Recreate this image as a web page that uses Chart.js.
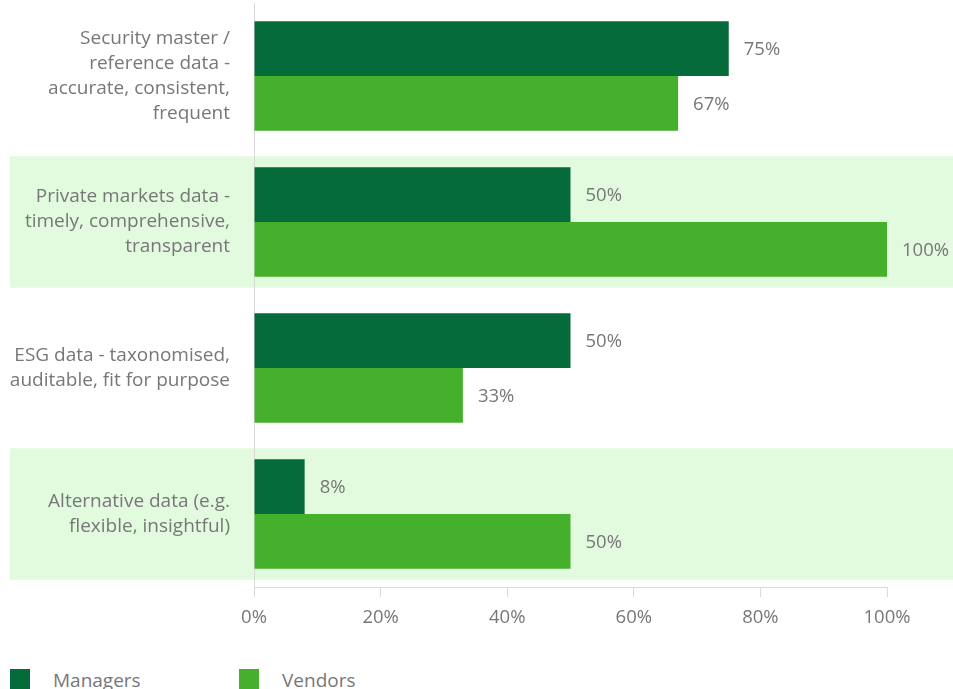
<!DOCTYPE html>
<html lang="en">
<head>
<meta charset="UTF-8">
<title>Data priorities</title>
<script src="https://cdn.jsdelivr.net/npm/chart.js@4"></script>
<style>
    body { margin: 0; background: #fff; font-family: "Open Sans", sans-serif; }
    .wrap { position: relative; width: 953px; height: 689px; overflow: hidden; }
    .chart-box { position: absolute; left: 0; top: 0; width: 953px; height: 640px; }
    .legend { position: absolute; top: 669px; left: 10px; display: flex; font-size: 19px; color: #777; }
    .legend .item { display: flex; align-items: flex-start; width: 229px; }
    .legend .sw { width: 20px; height: 20px; margin-right: 23px; }
    .legend span { line-height: 20px; margin-top: 1px; }
</style>
</head>
<body>
<div class="wrap">
    <div class="chart-box"><canvas id="grafico"></canvas></div>
    <div class="legend" id="leyenda"></div>
</div>
<script>
const categorias = [
    ["Security master /", "reference data -", "accurate, consistent,", "frequent"],
    ["Private markets data -", "timely, comprehensive,", "transparent"],
    ["ESG data - taxonomised,", "auditable, fit for purpose"],
    ["Alternative data (e.g.", "flexible, insightful)"]
];
const managers = [75, 50, 50, 8];
const vendors = [67, 100, 33, 50];
const series = ["Managers", "Vendors"];
const colores = ["#066b3a", "#44b02b"];
const ticksX = [0, 20, 40, 60, 80, 100];

const colorTexto = "#777777";
const colorEje = "#d9d9d9";
const colorBanda = "#e2fbdf";

// franjas verdes claras detrás de las categorías pares
const bandas = {
    id: "bandas",
    beforeDraw(chart) {
        const y = chart.scales.y;
        const ctx = chart.ctx;
        const paso = y.getPixelForValue(1) - y.getPixelForValue(0);
        ctx.save();
        ctx.fillStyle = colorBanda;
        categorias.forEach((c, i) => {
            if (i % 2 === 1) {
                const cy = y.getPixelForValue(i);
                ctx.fillRect(10, cy - paso * 0.45, chart.width - 10, paso * 0.9);
            }
        });
        ctx.restore();
    }
};

// etiquetas de valor a la derecha de cada barra
const etiquetas = {
    id: "etiquetas",
    afterDatasetsDraw(chart) {
        const ctx = chart.ctx;
        ctx.save();
        ctx.font = "18.5px 'Open Sans'";
        ctx.fillStyle = colorTexto;
        ctx.textAlign = "left";
        ctx.textBaseline = "middle";
        chart.data.datasets.forEach((ds, d) => {
            chart.getDatasetMeta(d).data.forEach((bar, i) => {
                ctx.fillText(ds.data[i] + "%", bar.x + 15, bar.y + 1);
            });
        });
        ctx.restore();
    }
};

new Chart(document.getElementById("grafico"), {
    type: "bar",
    data: {
        labels: categorias,
        datasets: [
            { label: series[0], data: managers, backgroundColor: colores[0] },
            { label: series[1], data: vendors, backgroundColor: colores[1] }
        ]
    },
    options: {
        indexAxis: "y",
        responsive: true,
        maintainAspectRatio: false,
        animation: false,
        categoryPercentage: 0.75,
        barPercentage: 1.0,
        layout: { padding: { top: 3, right: 66, left: 0, bottom: 0 } },
        plugins: { legend: { display: false }, tooltip: { enabled: false } },
        scales: {
            x: {
                min: 0,
                max: 100,
                afterFit(s) { s.height = 53; s.paddingLeft = 0; s.paddingRight = 0; },
                afterBuildTicks(s) { s.ticks = ticksX.map(v => ({ value: v })); },
                grid: { drawOnChartArea: false, tickLength: 10, color: colorEje },
                border: { color: colorEje },
                ticks: {
                    padding: 10,
                    color: colorTexto,
                    font: { family: "Open Sans", size: 18.5 },
                    callback: v => v + "%"
                }
            },
            y: {
                afterFit(s) { s.width = 254; s.paddingTop = 0; s.paddingBottom = 0; },
                grid: { display: false, drawTicks: false },
                border: { color: colorEje },
                ticks: {
                    padding: 24,
                    crossAlign: "near",
                    color: colorTexto,
                    font: { family: "Open Sans", size: 19, lineHeight: 1.32 }
                }
            }
        }
    },
    plugins: [bandas, etiquetas]
});

const leyenda = document.getElementById("leyenda");
series.forEach((s, i) => {
    leyenda.innerHTML += `<div class="item"><div class="sw" style="background:${colores[i]}"></div><span>${s}</span></div>`;
});
</script>
</body>
</html>
